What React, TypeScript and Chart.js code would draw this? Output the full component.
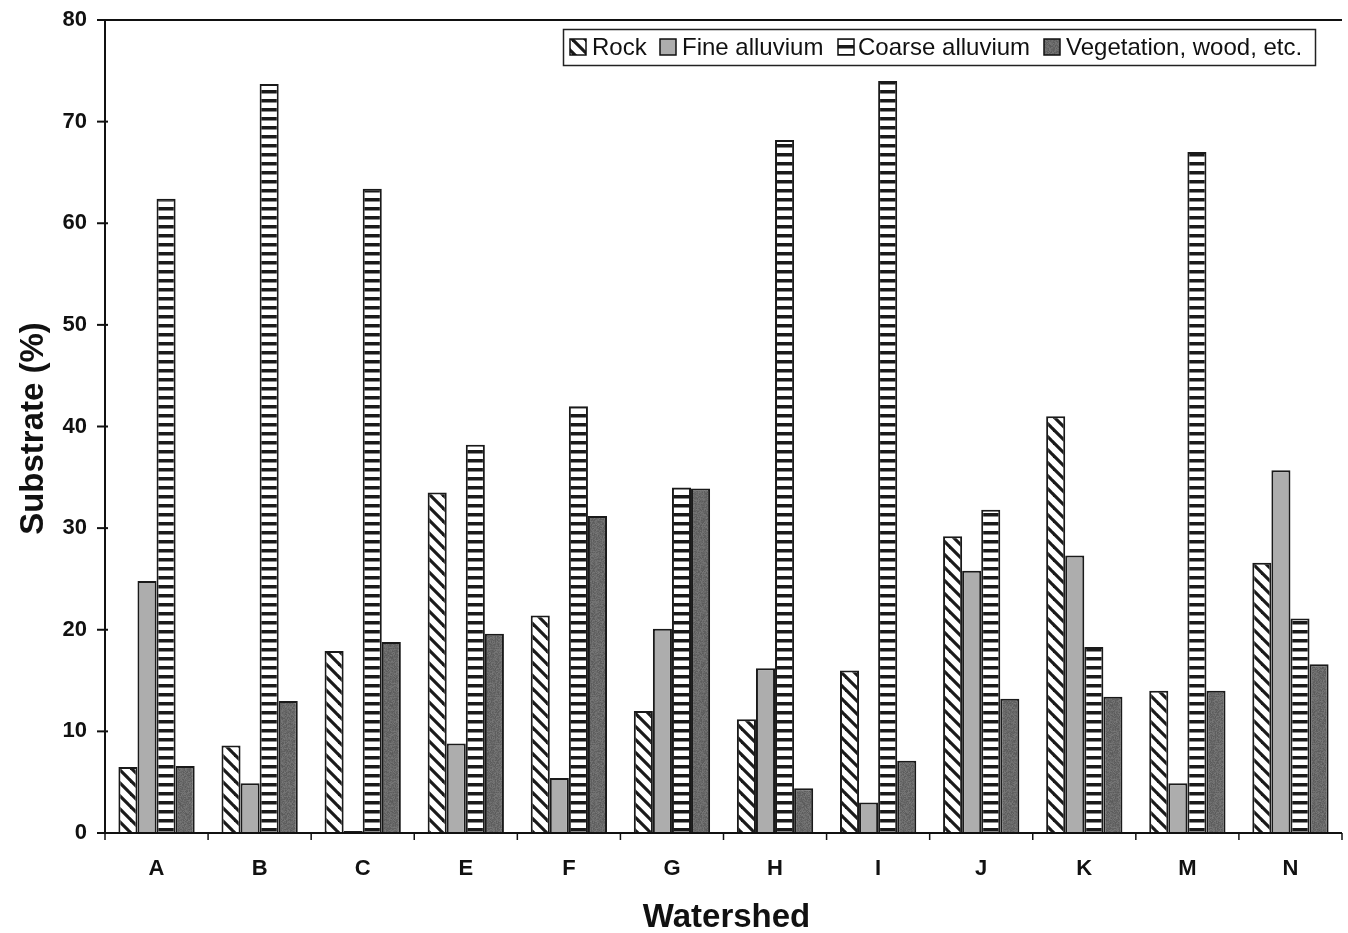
import React, { useEffect, useRef } from "react";
import { Chart, registerables } from "chart.js";

Chart.register(...registerables);

const categories = ["A", "B", "C", "E", "F", "G", "H", "I", "J", "K", "M", "N"];
const seriesNames = ["Rock", "Fine alluvium", "Coarse alluvium", "Vegetation, wood, etc."];
const rock = [6.5, 8.6, 17.9, 33.5, 21.4, 12.0, 11.2, 16.0, 29.2, 41.0, 14.0, 26.6];
const fine = [24.8, 4.9, 0.2, 8.8, 5.4, 20.1, 16.2, 3.0, 25.8, 27.3, 4.9, 35.7];
const coarse = [62.4, 73.7, 63.4, 38.2, 42.0, 34.0, 68.2, 74.0, 31.8, 18.3, 67.0, 21.1];
const veg = [6.6, 13.0, 18.8, 19.6, 31.2, 33.9, 4.4, 7.1, 13.2, 13.4, 14.0, 16.6];
const yTickValues = [0, 10, 20, 30, 40, 50, 60, 70, 80];

const FONT = "'Liberation Sans', Arial, Helvetica, sans-serif";

function makeRockPattern(ctx: CanvasRenderingContext2D) {
  const s = 13;
  const c = document.createElement("canvas");
  c.width = s;
  c.height = s;
  const g = c.getContext("2d")!;
  g.fillStyle = "#ffffff";
  g.fillRect(0, 0, s, s);
  g.strokeStyle = "#1a1a1a";
  g.lineWidth = 3.2;
  for (const off of [-s, 0, s]) {
    g.beginPath();
    g.moveTo(off - 2, -2);
    g.lineTo(off + s + 2, s + 2);
    g.stroke();
  }
  return ctx.createPattern(c, "repeat")!;
}

function makeCoarsePattern(ctx: CanvasRenderingContext2D) {
  const c = document.createElement("canvas");
  c.width = 4;
  c.height = 9;
  const g = c.getContext("2d")!;
  g.fillStyle = "#ffffff";
  g.fillRect(0, 0, 4, 9);
  g.fillStyle = "#1a1a1a";
  g.fillRect(0, 0, 4, 3.5);
  return ctx.createPattern(c, "repeat")!;
}

function makeVegPattern(ctx: CanvasRenderingContext2D) {
  const s = 48;
  const c = document.createElement("canvas");
  c.width = s;
  c.height = s;
  const g = c.getContext("2d")!;
  const img = g.createImageData(s, s);
  for (let yy = 0; yy < s; yy++) {
    for (let xx = 0; xx < s; xx++) {
      const h = ((xx * 73856093) ^ (yy * 19349663) ^ (xx * yy * 83492791)) >>> 0;
      const d = (h % 29) - 14;
      const v = 105 + d;
      const i = (yy * s + xx) * 4;
      img.data[i] = v;
      img.data[i + 1] = v;
      img.data[i + 2] = v;
      img.data[i + 3] = 255;
    }
  }
  g.putImageData(img, 0, 0);
  return ctx.createPattern(c, "repeat")!;
}

export default function App() {
  const ref = useRef<HTMLCanvasElement | null>(null);

  useEffect(() => {
    document.body.style.margin = "0";
    const canvas = ref.current!;
    const ctx0 = canvas.getContext("2d")!;
    const fills = [makeRockPattern(ctx0), "#adadad", makeCoarsePattern(ctx0), makeVegPattern(ctx0)];
    const values = [rock, fine, coarse, veg];

    const decor = {
      id: "decor",
      afterDatasetsDraw(chart: any) {
        const ctx = chart.ctx as CanvasRenderingContext2D;
        const { left, right, top, bottom } = chart.chartArea;
        const x = chart.scales.x;
        const y = chart.scales.y;
        ctx.save();
        ctx.strokeStyle = "#111";
        ctx.lineWidth = 2;
        const line = (a: number, b: number, c: number, d: number) => {
          ctx.beginPath();
          ctx.moveTo(a, b);
          ctx.lineTo(c, d);
          ctx.stroke();
        };
        line(left, top, left, bottom + 1);
        line(left, bottom, right, bottom);
        line(left - 8, top, right, top);
        for (const v of yTickValues) {
          const py = y.getPixelForValue(v);
          line(left - 8, py, left + 3, py);
        }
        const half = (x.getPixelForValue(1) - x.getPixelForValue(0)) / 2;
        ctx.lineWidth = 1.5;
        for (let i = 0; i <= categories.length; i++) {
          const px = x.getPixelForValue(0) - half + i * 2 * half;
          line(px, bottom, px, bottom + 7);
        }

        // axis titles
        ctx.fillStyle = "#111";
        ctx.font = `bold 33px ${FONT}`;
        ctx.textAlign = "center";
        ctx.textBaseline = "alphabetic";
        ctx.fillText("Watershed", (left + right) / 2 + 3, 927);
        ctx.save();
        ctx.translate(43, (top + bottom) / 2 + 2);
        ctx.rotate(-Math.PI / 2);
        ctx.fillText("Substrate (%)", 0, 0);
        ctx.restore();

        // legend
        ctx.lineWidth = 1.5;
        ctx.strokeStyle = "#222";
        ctx.fillStyle = "#fff";
        ctx.fillRect(563.5, 29.5, 752, 36);
        ctx.strokeRect(563.5, 29.5, 752, 36);
        const swatchX = [570, 660, 838, 1044];
        const textX = [592, 682, 858, 1066];
        ctx.font = `24px ${FONT}`;
        ctx.textAlign = "left";
        ctx.textBaseline = "middle";
        seriesNames.forEach((name, i) => {
          const sx = swatchX[i];
          ctx.fillStyle = fills[i] as any;
          ctx.fillRect(sx, 39, 16, 16);
          ctx.strokeStyle = "#111";
          ctx.lineWidth = 1.5;
          ctx.strokeRect(sx, 39, 16, 16);
          ctx.fillStyle = "#111";
          ctx.fillText(name, textX[i], 48);
        });
        ctx.restore();
      },
    };

    const chart = new Chart(canvas, {
      type: "bar",
      data: {
        labels: categories,
        datasets: seriesNames.map((name, i) => ({
          label: name,
          data: values[i],
          backgroundColor: fills[i] as any,
          borderColor: "#1a1a1a",
          borderWidth: 2,
          barPercentage: 1,
          categoryPercentage: 0.74,
        })),
      },
      options: {
        animation: false,
        responsive: false,
        devicePixelRatio: 1,
        layout: { padding: { left: 0, right: 6, top: 20, bottom: 0 } },
        plugins: {
          legend: { display: false },
          tooltip: { enabled: false },
        },
        scales: {
          x: {
            offset: true,
            grid: { display: false, drawTicks: false },
            border: { display: false },
            ticks: {
              color: "#111",
              font: { family: FONT, size: 22, weight: "bold" },
              padding: 23,
              maxRotation: 0,
            },
            afterFit: (s: any) => {
              s.height = 100;
              s.paddingLeft = 0;
              s.paddingRight = 0;
            },
          },
          y: {
            min: 0,
            max: 80,
            grid: { display: false, drawTicks: false },
            border: { display: false },
            ticks: {
              stepSize: 10,
              color: "#111",
              font: { family: FONT, size: 22, weight: "bold" },
              padding: 18,
            },
            afterFit: (s: any) => {
              s.width = 105;
              s.paddingTop = 0;
              s.paddingBottom = 0;
            },
          },
        },
      },
      plugins: [decor],
    });
    return () => chart.destroy();
  }, []);

  return (
    <div style={{ position: "absolute", left: 0, top: 0, width: 1348, height: 933, background: "#fff" }}>
      <canvas ref={ref} width={1348} height={933} style={{ width: 1348, height: 933, display: "block" }} />
    </div>
  );
}
